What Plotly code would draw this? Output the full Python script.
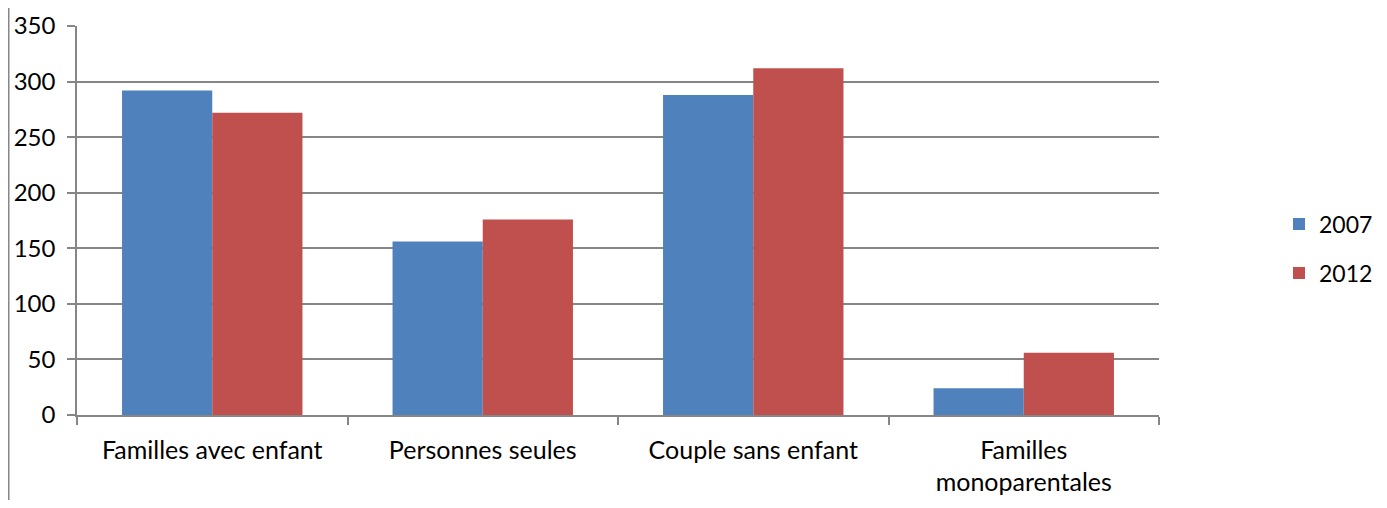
import plotly.graph_objects as go

categories = ["Familles avec enfant", "Personnes seules", "Couple sans enfant", "Familles<br>monoparentales"]
values_2007 = [292, 156, 288, 24]
values_2012 = [272, 176, 312, 56]
series_names = ["2007", "2012"]
colors = ["#4F81BD", "#C0504D"]
y_ticks = [0, 50, 100, 150, 200, 250, 300, 350]

FONT = "Lato"
# page has an 8px body margin, so the figure origin sits at page (8, 8)
W, H = 1371, 492
L, T = 69, 18
PLOT_R, PLOT_B = 1151, 407
R, B = W - PLOT_R, H - PLOT_B

fig = go.Figure()
fig.add_trace(go.Bar(x=categories, y=values_2007, name=series_names[0],
                     marker=dict(color=colors[0], line=dict(width=0)), legend="legend"))
fig.add_trace(go.Bar(x=categories, y=values_2012, name=series_names[1],
                     marker=dict(color=colors[1], line=dict(width=0)), legend="legend2"))

pw = W - L - R
ph = H - T - B

leg_x = (1271 - L) / pw

fig.update_layout(
    width=W, height=H,
    margin=dict(l=L, r=R, t=T, b=B, pad=0, autoexpand=False),
    paper_bgcolor="white", plot_bgcolor="white",
    barmode="group", bargap=0.333, bargroupgap=0,
    font=dict(family=FONT, size=23, color="#000000"),
    legend=dict(x=leg_x, y=(PLOT_B - 216) / ph, xanchor="left", yanchor="middle",
                font=dict(size=23), bgcolor="rgba(0,0,0,0)", borderwidth=0),
    legend2=dict(x=leg_x, y=(PLOT_B - 265) / ph, xanchor="left", yanchor="middle",
                 font=dict(size=23), bgcolor="rgba(0,0,0,0)", borderwidth=0),
    xaxis=dict(
        automargin=False,
        showgrid=False, showline=True, linecolor="#868686", linewidth=1.5,
        ticks="outside", ticklen=8, tickcolor="#868686", tickwidth=1.5,
        tickson="boundaries", tickfont=dict(family=FONT, size=25),
        ticklabelstandoff=12,
    ),
    yaxis=dict(
        automargin=False,
        range=[0, 350], tickvals=y_ticks, showgrid=True, gridcolor="#868686", gridwidth=1.5,
        showline=True, linecolor="#868686", linewidth=1.5,
        ticks="outside", ticklen=8, tickcolor="#868686", tickwidth=1.5,
        tickfont=dict(family=FONT, size=24), ticklabelstandoff=7, zeroline=False,
    ),
    showlegend=True,
)

# left border of the chart frame
fig.add_shape(type="line", xref="paper", yref="paper",
              x0=(0.75 - L) / pw, x1=(0.75 - L) / pw, y0=(H - T) / ph + 0.05, y1=-B / ph - 0.05,
              line=dict(color="#868686", width=1.5))

fig.write_html("out.html")
